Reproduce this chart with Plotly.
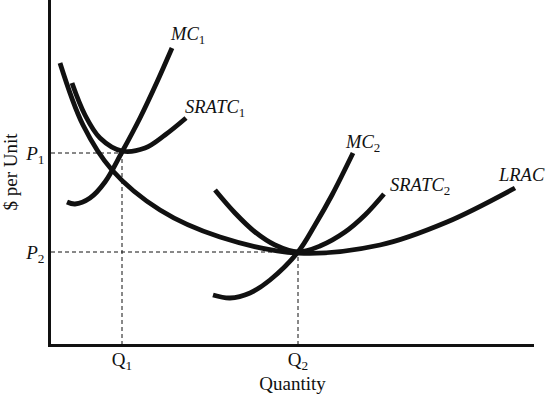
import plotly.graph_objects as go

# Curve control points (data units: x = quantity, y = $ per unit)
lrac_x = [9, 32, 61, 109, 169, 247, 329, 396, 464]
lrac_y = [281, 219, 174, 134, 107, 91, 99, 122, 156]

sratc1_x = [21, 34, 49, 71, 94, 114, 135]
sratc1_y = [261, 229, 206, 193, 196, 209, 226]

mc1_x = [16, 24, 39, 54, 71, 89, 106, 121]
mc1_y = [142, 140, 146, 162, 192, 226, 262, 296]

sratc2_x = [164, 184, 204, 224, 247, 269, 294, 314, 333]
sratc2_y = [154, 131, 112, 99, 92, 98, 112, 129, 150]

mc2_x = [162, 179, 199, 219, 247, 264, 281, 302]
mc2_y = [49, 46, 51, 64, 92, 119, 149, 191]

# Equilibrium points / tick labels
q_vals = [71, 247]
q_text = ["Q<sub>1</sub>", "Q<sub>2</sub>"]
p_vals = [191, 92]
p_text = ["<i>P</i><sub>1</sub>", "<i>P</i><sub>2</sub>"]

FONT = "Liberation Serif"
INK = "#111111"
FS = 19
FL = 18.5

fig = go.Figure()

# dashed guide lines
for q, p in zip(q_vals, p_vals):
    fig.add_trace(go.Scatter(x=[0, q, q], y=[p, p, 0], mode="lines",
                             line=dict(color=INK, width=1, dash="4px,3px"),
                             hoverinfo="skip", showlegend=False))

for xs, ys in [(lrac_x, lrac_y), (sratc1_x, sratc1_y), (mc1_x, mc1_y),
               (sratc2_x, sratc2_y), (mc2_x, mc2_y)]:
    fig.add_trace(go.Scatter(x=xs, y=ys, mode="lines",
                             line=dict(color=INK, width=4.8, shape="spline", smoothing=1.0),
                             hoverinfo="skip", showlegend=False))

labels = [
    ("<i>MC</i><sub>1</sub>", 136, 309),
    ("<i>SRATC</i><sub>1</sub>", 164, 236),
    ("<i>MC</i><sub>2</sub>", 311, 201),
    ("<i>SRATC</i><sub>2</sub>", 369, 158),
    ("<i>LRAC</i>", 470, 169),
]
for txt, x, y in labels:
    fig.add_annotation(x=x, y=y, text=txt, showarrow=False,
                       font=dict(family=FONT, size=FL, color=INK))

fig.update_layout(
    width=546, height=397,
    margin=dict(l=51, r=12, t=0, b=53),
    paper_bgcolor="white", plot_bgcolor="white",
    font=dict(family=FONT, size=FS, color=INK),
    xaxis=dict(range=[0, 483], showgrid=False, zeroline=False, automargin=False,
               showline=True, linecolor=INK, linewidth=2.5,
               tickvals=q_vals, ticktext=q_text, ticks="", ticklabelstandoff=-4,
               tickfont=dict(family=FONT, size=FS, color=INK),
               title=dict(text="Quantity", font=dict(family=FONT, size=FS, color=INK), standoff=6)),
    yaxis=dict(range=[0, 344], showgrid=False, zeroline=False, automargin=False,
               showline=True, linecolor=INK, linewidth=2.5,
               tickvals=p_vals, ticktext=p_text, ticks="",
               tickfont=dict(family=FONT, size=FS, color=INK),
               title=dict(text="$ per Unit", font=dict(family=FONT, size=FS, color=INK), standoff=4)),
)

fig.write_html("out.html", config={"displayModeBar": False},
               post_script="document.body.style.margin='0';")
